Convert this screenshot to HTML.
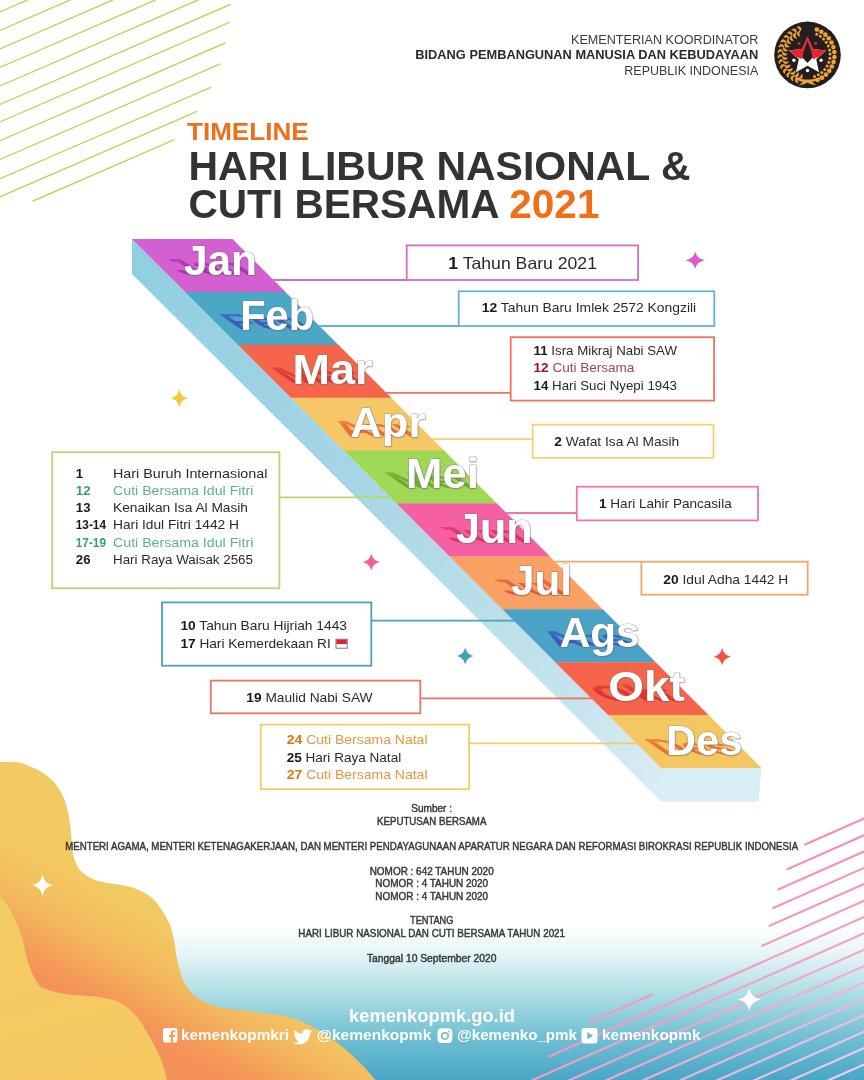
<!DOCTYPE html>
<html lang="id"><head><meta charset="utf-8"><title>Timeline Hari Libur Nasional &amp; Cuti Bersama 2021</title>
<style>
html,body{margin:0;padding:0;background:#fff}
body{width:864px;height:1080px;overflow:hidden;position:relative}
svg{position:absolute;left:0;top:0;display:block}
text{font-family:"Liberation Sans",sans-serif}
.b{font-weight:bold}
.ev{font-size:13.2px;fill:#222}
.mon{font-size:42px;font-weight:bold}
.src{font-size:10.3px;fill:#3a3a3a;stroke:#3a3a3a;stroke-width:0.45px;text-anchor:middle}
.ft{font-weight:bold;fill:#fff}
</style></head><body>
<svg width="864" height="1080" viewBox="0 0 864 1080">
<defs>
<linearGradient id="bg" x1="0" y1="0" x2="0" y2="1">
<stop offset="0" stop-color="#ffffff"/><stop offset="0.2" stop-color="#e2f3f5"/><stop offset="0.46" stop-color="#a9dbe3"/><stop offset="0.73" stop-color="#6ebfd2"/><stop offset="1" stop-color="#49a6c6"/>
</linearGradient>
<linearGradient id="blobA" gradientUnits="userSpaceOnUse" x1="100" y1="885" x2="47.2" y2="981">
<stop offset="0" stop-color="#f2ca62"/><stop offset="0.28" stop-color="#f3c05f"/><stop offset="0.48" stop-color="#f3b75d"/><stop offset="0.6" stop-color="#f4ae5b"/><stop offset="0.84" stop-color="#f59a57"/><stop offset="1" stop-color="#f5925a"/>
</linearGradient>
<linearGradient id="blobB" gradientUnits="userSpaceOnUse" x1="40" y1="900" x2="90" y2="1080">
<stop offset="0" stop-color="#f2cd63"/><stop offset="1" stop-color="#f5c860"/>
</linearGradient>
<linearGradient id="side" gradientUnits="userSpaceOnUse" x1="132" y1="255" x2="662" y2="785">
<stop offset="0" stop-color="#8fcfe0"/><stop offset="0.45" stop-color="#a9d6e6"/><stop offset="0.58" stop-color="#b4dce8"/><stop offset="0.84" stop-color="#c6e4ee"/><stop offset="1" stop-color="#d9edf5"/>
</linearGradient>
<linearGradient id="pink" gradientUnits="userSpaceOnUse" x1="720" y1="850" x2="850" y2="1085">
<stop offset="0" stop-color="#f288af"/><stop offset="0.4" stop-color="#f29cc0"/><stop offset="0.7" stop-color="#ebb4d9"/><stop offset="1" stop-color="#e6d2f2"/>
</linearGradient>
<filter id="blur1" x="-20%" y="-40%" width="140%" height="180%"><feGaussianBlur stdDeviation="0.7"/></filter>
<filter id="blur2" x="-30%" y="-30%" width="160%" height="160%"><feGaussianBlur stdDeviation="1.6"/></filter>
<filter id="tsh" x="-10%" y="-10%" width="120%" height="130%"><feDropShadow dx="0.6" dy="0.8" stdDeviation="0.7" flood-color="#444" flood-opacity="0.3"/></filter>
<path id="spark" d="M0,-10 C1.4,-4 4,-1.4 10,0 C4,1.4 1.4,4 0,10 C-1.4,4 -4,1.4 -10,0 C-4,-1.4 -1.4,-4 0,-10Z"/>
</defs>

<rect x="0" y="0" width="864" height="1080" fill="#fff"/>
<rect x="0" y="926" width="864" height="154" fill="url(#bg)"/>
<g stroke="#b7da5c" stroke-width="1.4" fill="none" stroke-linecap="round">
<line x1="0" y1="85.9" x2="197.9" y2="0"/>
<line x1="0" y1="67.4" x2="155.3" y2="0"/>
<line x1="0" y1="48.9" x2="112.7" y2="0"/>
<line x1="0" y1="30.4" x2="70.0" y2="0"/>
<line x1="0" y1="11.9" x2="27.4" y2="0"/>
<line x1="0" y1="104.4" x2="230.2" y2="4.5"/>
<line x1="0" y1="121.9" x2="228.7" y2="22.6"/>
<line x1="0" y1="140.7" x2="225.1" y2="43.0"/>
<line x1="0" y1="159.4" x2="219.7" y2="64.1"/>
<line x1="0" y1="178.7" x2="210.7" y2="87.3"/>
<line x1="0" y1="196.8" x2="197.1" y2="111.3"/>
<line x1="33.1" y1="201" x2="173.9" y2="139.9"/>
</g>
<g stroke="url(#pink)" stroke-width="2.2" fill="none" stroke-linecap="round">
<line x1="805.2" y1="844.5" x2="864" y2="818.5"/>
<line x1="787.4" y1="869.2" x2="864" y2="835.3"/>
<line x1="778.2" y1="889.6" x2="864" y2="851.6"/>
<line x1="773.3" y1="908.1" x2="864" y2="867.9"/>
<line x1="769.6" y1="925.8" x2="864" y2="884.0"/>
<line x1="762.2" y1="945.8" x2="864" y2="900.7"/>
<line x1="590" y1="1022.1" x2="652" y2="994.6"/>
<line x1="549" y1="1056.5" x2="864" y2="917.0"/>
<line x1="528.3" y1="1082" x2="864" y2="933.3"/>
<line x1="565.4" y1="1082" x2="864" y2="949.7"/>
<line x1="602.4" y1="1082" x2="864" y2="966.1"/>
<line x1="639.4" y1="1082" x2="864" y2="982.5"/>
<line x1="676.4" y1="1082" x2="864" y2="998.9"/>
<line x1="713.4" y1="1082" x2="864" y2="1015.3"/>
<line x1="750.5" y1="1082" x2="864" y2="1031.7"/>
<line x1="787.5" y1="1082" x2="864" y2="1048.1"/>
<line x1="824.5" y1="1082" x2="864" y2="1064.5"/>
<line x1="861.5" y1="1082" x2="864" y2="1080.9"/>
</g>
<path fill="url(#blobA)" d="M-5.0,761.8 C-4.2,761.8 -3.9,761.8 0.0,761.9 C3.9,762.0 12.9,761.6 18.5,762.6 C24.1,763.6 28.7,765.7 33.3,767.8 C37.9,769.9 42.3,772.1 46.3,775.2 C50.3,778.3 54.3,782.0 57.4,786.3 C60.5,790.6 62.8,795.5 64.8,801.0 C66.8,806.5 68.3,813.4 69.4,819.6 C70.5,825.8 70.7,832.1 71.3,838.0 C71.9,843.9 71.7,849.5 73.1,854.8 C74.5,860.1 76.3,865.6 79.6,869.6 C82.8,873.6 87.4,876.6 92.6,878.9 C97.8,881.2 104.8,882.2 111.0,883.5 C117.2,884.8 123.9,885.2 129.6,886.8 C135.3,888.4 140.8,890.6 145.0,893.0 C149.2,895.4 152.0,897.8 155.0,901.0 C158.0,904.2 160.5,908.0 163.0,912.0 C165.5,916.0 168.2,920.3 170.0,925.0 C171.8,929.7 172.8,934.0 174.0,940.0 C175.2,946.0 175.8,954.0 177.5,961.0 C179.2,968.0 180.8,975.8 184.0,982.0 C187.2,988.2 191.2,993.8 197.0,998.0 C202.8,1002.2 209.5,1004.7 219.0,1007.0 C228.5,1009.3 242.3,1010.3 254.0,1012.0 C265.7,1013.7 278.6,1014.2 289.0,1017.0 C299.4,1019.8 308.6,1024.7 316.7,1029.0 C324.8,1033.3 330.6,1037.7 337.5,1043.0 C344.4,1048.3 351.6,1054.5 358.0,1060.7 C364.4,1066.9 372.0,1076.0 375.7,1080.0 C379.4,1084.0 379.3,1084.2 380.0,1085.0 L-5,1085Z"/>
<path fill="url(#blobB)" d="M-5.0,893.0 C-4.2,893.5 -2.5,893.2 0.0,896.0 C2.5,898.8 6.5,903.7 10.0,910.0 C13.5,916.3 18.0,925.3 21.0,934.0 C24.0,942.7 25.2,953.7 28.0,962.0 C30.8,970.3 34.3,979.2 38.0,984.0 C41.7,988.8 45.0,988.8 50.0,990.5 C55.0,992.2 60.2,993.4 67.8,994.4 C75.4,995.4 87.3,995.3 95.6,996.5 C103.9,997.7 111.3,998.7 117.8,1001.6 C124.3,1004.5 129.8,1009.2 134.4,1013.9 C139.0,1018.6 141.3,1022.8 145.6,1030.0 C149.9,1037.2 156.4,1048.7 160.0,1057.0 C163.6,1065.3 165.7,1075.3 167.0,1080.0 C168.3,1084.7 167.8,1084.2 168.0,1085.0 L-5,1085Z"/>
<polygon fill="url(#side)" points="132.0,239 661.0,768.0 661.0,801.5 132.0,274"/>
<polygon fill="#d8edf5" points="661.0,768.0 761.5,768.0 758.5,801.5 661.0,801.5"/>
<polygon fill="#d45fd1" points="132.0,239.0 232.5,239.0 285.8,292.3 185.3,292.3"/>
<polygon fill="#4aa8c6" points="184.9,291.9 285.4,291.9 338.7,345.2 238.2,345.2"/>
<polygon fill="#f6654b" points="237.8,344.8 338.3,344.8 391.6,398.1 291.1,398.1"/>
<polygon fill="#f5c766" points="290.7,397.7 391.2,397.7 444.5,451.0 344.0,451.0"/>
<polygon fill="#9fd856" points="343.6,450.6 444.1,450.6 497.4,503.9 396.9,503.9"/>
<polygon fill="#f75fa3" points="396.5,503.5 497.0,503.5 550.3,556.8 449.8,556.8"/>
<polygon fill="#f9a162" points="449.4,556.4 549.9,556.4 603.2,609.7 502.7,609.7"/>
<polygon fill="#4aa3c6" points="502.3,609.3 602.8,609.3 656.1,662.6 555.6,662.6"/>
<polygon fill="#f6654b" points="555.2,662.2 655.7,662.2 709.0,715.5 608.5,715.5"/>
<polygon fill="#f3c863" points="608.1,715.1 708.6,715.1 761.5,768.0 661.0,768.0"/>
<line x1="272.5" y1="280" x2="406.7" y2="280" stroke="#d16dd0" stroke-width="1.8"/>
<rect x="406.7" y="245.4" width="231.4" height="34.6" fill="#fff" stroke="#d16dd0" stroke-width="1.8"/>
<line x1="318.5" y1="326" x2="458.7" y2="326" stroke="#5fb6d2" stroke-width="1.8"/>
<rect x="458.7" y="291.3" width="255.6" height="34.7" fill="#fff" stroke="#5fb6d2" stroke-width="1.8"/>
<line x1="385.3" y1="392.8" x2="510.7" y2="392.8" stroke="#f0735f" stroke-width="1.8"/>
<rect x="510.7" y="337.2" width="203.4" height="63.4" fill="#fff" stroke="#f0735f" stroke-width="1.8"/>
<line x1="431.7" y1="439.2" x2="532.7" y2="439.2" stroke="#f6d273" stroke-width="1.8"/>
<rect x="532.7" y="424.7" width="180.8" height="33.1" fill="#fff" stroke="#f6d273" stroke-width="1.8"/>
<line x1="505.5" y1="513" x2="576.8" y2="513" stroke="#f174b2" stroke-width="1.8"/>
<rect x="576.8" y="486.7" width="181.2" height="33.7" fill="#fff" stroke="#f174b2" stroke-width="1.8"/>
<line x1="554.2" y1="561.7" x2="641.4" y2="561.7" stroke="#f3a566" stroke-width="1.8"/>
<rect x="641.4" y="561.7" width="166.3" height="33.0" fill="#fff" stroke="#f3a566" stroke-width="1.8"/>
<line x1="279.4" y1="497.4" x2="391.4" y2="497.4" stroke="#b0db69" stroke-width="1.8"/>
<rect x="52.2" y="452.2" width="227.2" height="136.1" fill="#fff" stroke="#b0db69" stroke-width="1.8"/>
<line x1="371.3" y1="620.6" x2="514.6" y2="620.6" stroke="#4ba2ba" stroke-width="1.8"/>
<rect x="162.0" y="602.4" width="209.3" height="63.3" fill="#fff" stroke="#4ba2ba" stroke-width="1.8"/>
<line x1="420.3" y1="698.3" x2="592.3" y2="698.3" stroke="#ea7563" stroke-width="1.8"/>
<rect x="210.8" y="680.6" width="209.5" height="32.7" fill="#fff" stroke="#ea7563" stroke-width="1.8"/>
<line x1="469.2" y1="743.3" x2="637.3" y2="743.3" stroke="#f6cb66" stroke-width="1.8"/>
<rect x="260.8" y="724.6" width="208.4" height="64.6" fill="#fff" stroke="#f6cb66" stroke-width="1.8"/>
<defs><linearGradient id="shf" x1="0" y1="1" x2="0" y2="0"><stop offset="0" stop-color="#fff"/><stop offset="0.3" stop-color="#fff"/><stop offset="0.95" stop-color="#000"/></linearGradient></defs>
<mask id="kJan" maskUnits="userSpaceOnUse" x="154.0" y="234.8" width="133.0" height="50"><rect x="154.0" y="240.8" width="133.0" height="36" fill="url(#shf)"/></mask>
<g mask="url(#kJan)"><g transform="translate(0,274.8) matrix(1,0,0.8,0.55,-1.5,0) translate(0,-274.8)" filter="url(#blur1)" opacity="0.85"><use href="#mJan" fill="#9a2fb0"/></g></g>
<mask id="kFeb" maskUnits="userSpaceOnUse" x="210.2" y="289.6" width="134.0" height="50"><rect x="210.2" y="295.6" width="134.0" height="36" fill="url(#shf)"/></mask>
<g mask="url(#kFeb)"><g transform="translate(0,329.6) matrix(1,0,0.8,0.55,-1.5,0) translate(0,-329.6)" filter="url(#blur1)" opacity="0.85"><use href="#mFeb" fill="#3d4fc0"/></g></g>
<mask id="kMar" maskUnits="userSpaceOnUse" x="262.5" y="343.5" width="140.0" height="50"><rect x="262.5" y="349.5" width="140.0" height="36" fill="url(#shf)"/></mask>
<g mask="url(#kMar)"><g transform="translate(0,383.5) matrix(1,0,0.8,0.55,-1.5,0) translate(0,-383.5)" filter="url(#blur1)" opacity="0.85"><use href="#mMar" fill="#d83030"/></g></g>
<mask id="kApr" maskUnits="userSpaceOnUse" x="320.3" y="396.5" width="135.2" height="50"><rect x="320.3" y="402.5" width="135.2" height="36" fill="url(#shf)"/></mask>
<g mask="url(#kApr)"><g transform="translate(0,436.5) matrix(1,0,0.8,0.55,-1.5,0) translate(0,-436.5)" filter="url(#blur1)" opacity="0.85"><use href="#mApr" fill="#ee5a30"/></g></g>
<mask id="kMei" maskUnits="userSpaceOnUse" x="376.0" y="448.2" width="132.8" height="50"><rect x="376.0" y="454.2" width="132.8" height="36" fill="url(#shf)"/></mask>
<g mask="url(#kMei)"><g transform="translate(0,488.2) matrix(1,0,0.8,0.55,-1.5,0) translate(0,-488.2)" filter="url(#blur1)" opacity="0.85"><use href="#mMei" fill="#5fa52c"/></g></g>
<mask id="kJun" maskUnits="userSpaceOnUse" x="426.0" y="502.6" width="136.6" height="50"><rect x="426.0" y="508.6" width="136.6" height="36" fill="url(#shf)"/></mask>
<g mask="url(#kJun)"><g transform="translate(0,542.6) matrix(1,0,0.8,0.55,-1.5,0) translate(0,-542.6)" filter="url(#blur1)" opacity="0.85"><use href="#mJun" fill="#e02a50"/></g></g>
<mask id="kJul" maskUnits="userSpaceOnUse" x="481.0" y="555.3" width="121.0" height="50"><rect x="481.0" y="561.3" width="121.0" height="36" fill="url(#shf)"/></mask>
<g mask="url(#kJul)"><g transform="translate(0,595.3) matrix(1,0,0.8,0.55,-1.5,0) translate(0,-595.3)" filter="url(#blur1)" opacity="0.85"><use href="#mJul" fill="#ee4a35"/></g></g>
<mask id="kAgs" maskUnits="userSpaceOnUse" x="529.7" y="606.6" width="139.9" height="50"><rect x="529.7" y="612.6" width="139.9" height="36" fill="url(#shf)"/></mask>
<g mask="url(#kAgs)"><g transform="translate(0,646.6) matrix(1,0,0.8,0.55,-1.5,0) translate(0,-646.6)" filter="url(#blur1)" opacity="0.85"><use href="#mAgs" fill="#3850b8"/></g></g>
<mask id="kOkt" maskUnits="userSpaceOnUse" x="578.3" y="661.2" width="136.4" height="50"><rect x="578.3" y="667.2" width="136.4" height="36" fill="url(#shf)"/></mask>
<g mask="url(#kOkt)"><g transform="translate(0,701.2) matrix(1,0,0.8,0.55,-1.5,0) translate(0,-701.2)" filter="url(#blur1)" opacity="0.85"><use href="#mOkt" fill="#e02a2a"/></g></g>
<mask id="kDes" maskUnits="userSpaceOnUse" x="636.0" y="714.9" width="136.4" height="50"><rect x="636.0" y="720.9" width="136.4" height="36" fill="url(#shf)"/></mask>
<g mask="url(#kDes)"><g transform="translate(0,754.9) matrix(1,0,0.8,0.55,-1.5,0) translate(0,-754.9)" filter="url(#blur1)" opacity="0.85"><use href="#mDes" fill="#ee6020"/></g></g>
<g fill="#fff" stroke="#777" stroke-opacity="0.55" stroke-width="1.1" style="paint-order:stroke">
<text id="mJan" class="mon" x="184.0" y="274.8" textLength="73.0" lengthAdjust="spacingAndGlyphs" filter="url(#tsh)">Jan</text>
<text id="mFeb" class="mon" x="240.2" y="329.6" textLength="74.0" lengthAdjust="spacingAndGlyphs" filter="url(#tsh)">Feb</text>
<text id="mMar" class="mon" x="292.5" y="383.5" textLength="80.0" lengthAdjust="spacingAndGlyphs" filter="url(#tsh)">Mar</text>
<text id="mApr" class="mon" x="350.3" y="436.5" textLength="75.2" lengthAdjust="spacingAndGlyphs" filter="url(#tsh)">Apr</text>
<text id="mMei" class="mon" x="406.0" y="488.2" textLength="72.8" lengthAdjust="spacingAndGlyphs" filter="url(#tsh)">Mei</text>
<text id="mJun" class="mon" x="456.0" y="542.6" textLength="76.6" lengthAdjust="spacingAndGlyphs" filter="url(#tsh)">Jun</text>
<text id="mJul" class="mon" x="511.0" y="595.3" textLength="61.0" lengthAdjust="spacingAndGlyphs" filter="url(#tsh)">Jul</text>
<text id="mAgs" class="mon" x="559.7" y="646.6" textLength="79.9" lengthAdjust="spacingAndGlyphs" filter="url(#tsh)">Ags</text>
<text id="mOkt" class="mon" x="608.3" y="701.2" textLength="76.4" lengthAdjust="spacingAndGlyphs" filter="url(#tsh)">Okt</text>
<text id="mDes" class="mon" x="666.0" y="754.9" textLength="76.4" lengthAdjust="spacingAndGlyphs" filter="url(#tsh)">Des</text>
</g><text class="ev" x="448.3" y="269.3" textLength="148.7" lengthAdjust="spacingAndGlyphs" style="font-size:16.5px"><tspan class="b" fill="#1a1a1a">1</tspan><tspan fill="#2a2a2a"> Tahun Baru 2021</tspan></text>
<text class="ev" x="481.7" y="312.2" textLength="214.5" lengthAdjust="spacingAndGlyphs"><tspan class="b" fill="#1a1a1a">12</tspan><tspan fill="#2a2a2a"> Tahun Baru Imlek 2572 Kongzili</tspan></text>
<text class="ev" x="533.6" y="354.7" textLength="143.4" lengthAdjust="spacingAndGlyphs"><tspan class="b" fill="#1a1a1a">11</tspan><tspan fill="#2a2a2a"> Isra Mikraj Nabi SAW</tspan></text>
<text class="ev" x="533.6" y="372.3" textLength="100.8" lengthAdjust="spacingAndGlyphs"><tspan class="b" fill="#9c1422">12</tspan><tspan fill="#a3454f"> Cuti Bersama</tspan></text>
<text class="ev" x="533.6" y="389.6" textLength="143.4" lengthAdjust="spacingAndGlyphs"><tspan class="b" fill="#1a1a1a">14</tspan><tspan fill="#2a2a2a"> Hari Suci Nyepi 1943</tspan></text>
<text class="ev" x="554.3" y="446.4" textLength="124.9" lengthAdjust="spacingAndGlyphs"><tspan class="b" fill="#1a1a1a">2</tspan><tspan fill="#2a2a2a"> Wafat Isa Al Masih</tspan></text>
<text class="ev" x="599.0" y="507.9" textLength="132.7" lengthAdjust="spacingAndGlyphs"><tspan class="b" fill="#1a1a1a">1</tspan><tspan fill="#2a2a2a"> Hari Lahir Pancasila</tspan></text>
<text class="ev" x="663.3" y="584.0" textLength="125.0" lengthAdjust="spacingAndGlyphs"><tspan class="b" fill="#1a1a1a">20</tspan><tspan fill="#2a2a2a"> Idul Adha 1442 H</tspan></text>
<text class="ev b" x="75.8" y="477.5" style="fill:#1a1a1a">1</text>
<text class="ev" x="113" y="477.5" style="fill:#2a2a2a" textLength="154.4" lengthAdjust="spacingAndGlyphs">Hari Buruh Internasional</text>
<text class="ev b" x="75.8" y="494.8" style="fill:#3a9a7a">12</text>
<text class="ev" x="113" y="494.8" style="fill:#5db293" textLength="140.3" lengthAdjust="spacingAndGlyphs">Cuti Bersama Idul Fitri</text>
<text class="ev b" x="75.8" y="512.1" style="fill:#1a1a1a">13</text>
<text class="ev" x="113" y="512.1" style="fill:#2a2a2a" textLength="135" lengthAdjust="spacingAndGlyphs">Kenaikan Isa Al Masih</text>
<text class="ev b" x="75.8" y="529.4" style="fill:#1a1a1a" textLength="30.2" lengthAdjust="spacingAndGlyphs">13-14</text>
<text class="ev" x="113" y="529.4" style="fill:#2a2a2a" textLength="126" lengthAdjust="spacingAndGlyphs">Hari Idul Fitri 1442 H</text>
<text class="ev b" x="75.8" y="546.7" style="fill:#3a9a7a" textLength="30.2" lengthAdjust="spacingAndGlyphs">17-19</text>
<text class="ev" x="113" y="546.7" style="fill:#5db293" textLength="140.3" lengthAdjust="spacingAndGlyphs">Cuti Bersama Idul Fitri</text>
<text class="ev b" x="75.8" y="564.0" style="fill:#1a1a1a">26</text>
<text class="ev" x="113" y="564.0" style="fill:#2a2a2a" textLength="140" lengthAdjust="spacingAndGlyphs">Hari Raya Waisak 2565</text>
<text class="ev" x="180.4" y="629.6" textLength="166.6" lengthAdjust="spacingAndGlyphs"><tspan class="b" fill="#1a1a1a">10</tspan><tspan fill="#2a2a2a"> Tahun Baru Hijriah 1443</tspan></text>
<text class="ev" x="180.4" y="647.5" textLength="150.4" lengthAdjust="spacingAndGlyphs"><tspan class="b" fill="#1a1a1a">17</tspan><tspan fill="#2a2a2a"> Hari Kemerdekaan RI</tspan></text>
<g><rect x="336" y="639.2" width="11.2" height="9" fill="#fff" stroke="#6a6a6a" stroke-width="0.9"/><rect x="336.4" y="639.6" width="10.4" height="4.4" fill="#e5222b"/></g>
<text class="ev" x="246.3" y="701.7" textLength="126.2" lengthAdjust="spacingAndGlyphs"><tspan class="b" fill="#1a1a1a">19</tspan><tspan fill="#2a2a2a"> Maulid Nabi SAW</tspan></text>
<text class="ev" x="286.7" y="744.0" textLength="140.8" lengthAdjust="spacingAndGlyphs"><tspan class="b" fill="#e07415">24</tspan><tspan fill="#ea9440"> Cuti Bersama Natal</tspan></text>
<text class="ev" x="286.7" y="761.8" textLength="114.5" lengthAdjust="spacingAndGlyphs"><tspan class="b" fill="#1a1a1a">25</tspan><tspan fill="#2a2a2a"> Hari Raya Natal</tspan></text>
<text class="ev" x="286.7" y="779.2" textLength="140.8" lengthAdjust="spacingAndGlyphs"><tspan class="b" fill="#e07415">27</tspan><tspan fill="#ea9440"> Cuti Bersama Natal</tspan></text>
<g text-anchor="end" fill="#3b3b3b" style="font-size:13.4px">
<text x="758.3" y="44" textLength="187.3" lengthAdjust="spacingAndGlyphs">KEMENTERIAN KOORDINATOR</text>
<text x="758.3" y="59.1" class="b" fill="#2b2b2b" textLength="343" lengthAdjust="spacingAndGlyphs">BIDANG PEMBANGUNAN MANUSIA DAN KEBUDAYAAN</text>
<text x="758.3" y="74.8" textLength="134" lengthAdjust="spacingAndGlyphs">REPUBLIK INDONESIA</text>
</g>
<g transform="translate(807.5,54.9)">
<circle r="33.3" fill="#231f20"/>
<g fill="#f0a52e" stroke="#f0a52e" stroke-width="0.9"><path transform="translate(-9.30,25.56) rotate(200.0)" d="M-0.5,-2.4 C2.6,-2.6 3.8,0.2 1.2,2.3 C1.6,0.6 0.8,-0.8 -0.5,-2.4Z"/><path transform="translate(-7.73,21.24) rotate(200.0) scale(-1,1)" d="M-0.5,-2.4 C2.6,-2.6 3.8,0.2 1.2,2.3 C1.6,0.6 0.8,-0.8 -0.5,-2.4Z"/><path transform="translate(-13.93,23.36) rotate(210.8)" d="M-0.5,-2.4 C2.6,-2.6 3.8,0.2 1.2,2.3 C1.6,0.6 0.8,-0.8 -0.5,-2.4Z"/><path transform="translate(-11.57,19.41) rotate(210.8) scale(-1,1)" d="M-0.5,-2.4 C2.6,-2.6 3.8,0.2 1.2,2.3 C1.6,0.6 0.8,-0.8 -0.5,-2.4Z"/><path transform="translate(-18.06,20.34) rotate(221.6)" d="M-0.5,-2.4 C2.6,-2.6 3.8,0.2 1.2,2.3 C1.6,0.6 0.8,-0.8 -0.5,-2.4Z"/><path transform="translate(-15.00,16.90) rotate(221.6) scale(-1,1)" d="M-0.5,-2.4 C2.6,-2.6 3.8,0.2 1.2,2.3 C1.6,0.6 0.8,-0.8 -0.5,-2.4Z"/><path transform="translate(-21.55,16.60) rotate(232.4)" d="M-0.5,-2.4 C2.6,-2.6 3.8,0.2 1.2,2.3 C1.6,0.6 0.8,-0.8 -0.5,-2.4Z"/><path transform="translate(-17.91,13.79) rotate(232.4) scale(-1,1)" d="M-0.5,-2.4 C2.6,-2.6 3.8,0.2 1.2,2.3 C1.6,0.6 0.8,-0.8 -0.5,-2.4Z"/><path transform="translate(-24.28,12.26) rotate(243.2)" d="M-0.5,-2.4 C2.6,-2.6 3.8,0.2 1.2,2.3 C1.6,0.6 0.8,-0.8 -0.5,-2.4Z"/><path transform="translate(-20.17,10.19) rotate(243.2) scale(-1,1)" d="M-0.5,-2.4 C2.6,-2.6 3.8,0.2 1.2,2.3 C1.6,0.6 0.8,-0.8 -0.5,-2.4Z"/><path transform="translate(-26.15,7.50) rotate(254.0)" d="M-0.5,-2.4 C2.6,-2.6 3.8,0.2 1.2,2.3 C1.6,0.6 0.8,-0.8 -0.5,-2.4Z"/><path transform="translate(-21.72,6.23) rotate(254.0) scale(-1,1)" d="M-0.5,-2.4 C2.6,-2.6 3.8,0.2 1.2,2.3 C1.6,0.6 0.8,-0.8 -0.5,-2.4Z"/><path transform="translate(-27.09,2.47) rotate(264.8)" d="M-0.5,-2.4 C2.6,-2.6 3.8,0.2 1.2,2.3 C1.6,0.6 0.8,-0.8 -0.5,-2.4Z"/><path transform="translate(-22.51,2.05) rotate(264.8) scale(-1,1)" d="M-0.5,-2.4 C2.6,-2.6 3.8,0.2 1.2,2.3 C1.6,0.6 0.8,-0.8 -0.5,-2.4Z"/><path transform="translate(-27.07,-2.65) rotate(275.6)" d="M-0.5,-2.4 C2.6,-2.6 3.8,0.2 1.2,2.3 C1.6,0.6 0.8,-0.8 -0.5,-2.4Z"/><path transform="translate(-22.49,-2.21) rotate(275.6) scale(-1,1)" d="M-0.5,-2.4 C2.6,-2.6 3.8,0.2 1.2,2.3 C1.6,0.6 0.8,-0.8 -0.5,-2.4Z"/><path transform="translate(-26.09,-7.68) rotate(286.4)" d="M-0.5,-2.4 C2.6,-2.6 3.8,0.2 1.2,2.3 C1.6,0.6 0.8,-0.8 -0.5,-2.4Z"/><path transform="translate(-21.68,-6.38) rotate(286.4) scale(-1,1)" d="M-0.5,-2.4 C2.6,-2.6 3.8,0.2 1.2,2.3 C1.6,0.6 0.8,-0.8 -0.5,-2.4Z"/><path transform="translate(-24.19,-12.43) rotate(297.2)" d="M-0.5,-2.4 C2.6,-2.6 3.8,0.2 1.2,2.3 C1.6,0.6 0.8,-0.8 -0.5,-2.4Z"/><path transform="translate(-20.10,-10.33) rotate(297.2) scale(-1,1)" d="M-0.5,-2.4 C2.6,-2.6 3.8,0.2 1.2,2.3 C1.6,0.6 0.8,-0.8 -0.5,-2.4Z"/><path transform="translate(-21.43,-16.75) rotate(308.0)" d="M-0.5,-2.4 C2.6,-2.6 3.8,0.2 1.2,2.3 C1.6,0.6 0.8,-0.8 -0.5,-2.4Z"/><path transform="translate(-17.81,-13.91) rotate(308.0) scale(-1,1)" d="M-0.5,-2.4 C2.6,-2.6 3.8,0.2 1.2,2.3 C1.6,0.6 0.8,-0.8 -0.5,-2.4Z"/><path transform="translate(-17.92,-20.47) rotate(318.8)" d="M-0.5,-2.4 C2.6,-2.6 3.8,0.2 1.2,2.3 C1.6,0.6 0.8,-0.8 -0.5,-2.4Z"/><path transform="translate(-14.89,-17.00) rotate(318.8) scale(-1,1)" d="M-0.5,-2.4 C2.6,-2.6 3.8,0.2 1.2,2.3 C1.6,0.6 0.8,-0.8 -0.5,-2.4Z"/><path transform="translate(-13.76,-23.46) rotate(329.6)" d="M-0.5,-2.4 C2.6,-2.6 3.8,0.2 1.2,2.3 C1.6,0.6 0.8,-0.8 -0.5,-2.4Z"/><path transform="translate(-11.44,-19.49) rotate(329.6) scale(-1,1)" d="M-0.5,-2.4 C2.6,-2.6 3.8,0.2 1.2,2.3 C1.6,0.6 0.8,-0.8 -0.5,-2.4Z"/><path transform="translate(-9.12,-25.62) rotate(340.4)" d="M-0.5,-2.4 C2.6,-2.6 3.8,0.2 1.2,2.3 C1.6,0.6 0.8,-0.8 -0.5,-2.4Z"/><path transform="translate(-7.58,-21.29) rotate(340.4) scale(-1,1)" d="M-0.5,-2.4 C2.6,-2.6 3.8,0.2 1.2,2.3 C1.6,0.6 0.8,-0.8 -0.5,-2.4Z"/></g>
<g fill="#f0a52e"><circle cx="10.11" cy="25.03" r="2.3"/><circle cx="6.98" cy="21.49" r="1.5"/><circle cx="14.55" cy="22.75" r="2.3"/><circle cx="10.82" cy="19.84" r="1.5"/><circle cx="18.48" cy="19.68" r="2.3"/><circle cx="14.28" cy="17.51" r="1.5"/><circle cx="21.79" cy="15.95" r="2.3"/><circle cx="17.26" cy="14.59" r="1.5"/><circle cx="24.35" cy="11.67" r="2.3"/><circle cx="19.65" cy="11.16" r="1.5"/><circle cx="26.08" cy="6.99" r="2.3"/><circle cx="21.37" cy="7.36" r="1.5"/><circle cx="26.92" cy="2.07" r="2.3"/><circle cx="22.36" cy="3.30" r="1.5"/><circle cx="26.84" cy="-2.92" r="2.3"/><circle cx="22.58" cy="-0.87" r="1.5"/><circle cx="25.85" cy="-7.80" r="2.3"/><circle cx="22.04" cy="-5.01" r="1.5"/><circle cx="23.97" cy="-12.43" r="2.3"/><circle cx="20.74" cy="-8.98" r="1.5"/><circle cx="21.28" cy="-16.62" r="2.3"/><circle cx="18.74" cy="-12.64" r="1.5"/><circle cx="17.86" cy="-20.25" r="2.3"/><circle cx="16.09" cy="-15.87" r="1.5"/><circle cx="13.83" cy="-23.19" r="2.3"/><circle cx="12.90" cy="-18.56" r="1.5"/><circle cx="9.32" cy="-25.34" r="2.3"/><circle cx="9.26" cy="-20.61" r="1.5"/></g>
<path d="M-12,22 C-5,25.5 5,25.5 12,22 L12.5,24 C6,27.2 2,27.3 0,27.2 C-2,27.3 -6,27.2 -12.5,24Z" fill="#f0a52e"/>
<path d="M-4,26.5 L-9,30.5 L-3,29 L0,27.5 L3,29 L9,30.5 L4,26.5Z" fill="#f0a52e"/>
<clipPath id="stc"><polygon points="0.00,-18.00 5.41,-5.84 18.64,-4.46 8.75,4.44 11.52,17.46 0.00,10.80 -11.52,17.46 -8.75,4.44 -18.64,-4.46 -5.41,-5.84"/></clipPath>
<g clip-path="url(#stc)"><rect x="-22" y="-22" width="44" height="44" fill="#fff"/><path d="M-22,-22 H22 V-2 L6,4 L0,-2 L-6,4 L-22,-2Z" fill="#e8232b"/></g>
<path d="M0,-13.5 C1.6,-9 5.2,-1.5 4.7,3.2 L0,8.2 L-4.7,3.2 C-5.2,-1.5 -1.6,-9 0,-13.5Z" fill="#231f20"/>
<circle cx="-8.3" cy="-11.5" r="1.4" fill="#e8232b"/><circle cx="8.3" cy="-11.5" r="1.4" fill="#e8232b"/>
<circle cx="-13.6" cy="5.4" r="1.7" fill="#fff"/><circle cx="13.6" cy="5.4" r="1.7" fill="#fff"/><circle cx="0" cy="15.6" r="1.7" fill="#fff"/>
</g>
<text x="187" y="140.2" class="b" fill="#f0701a" style="font-size:24.2px" textLength="121.6" lengthAdjust="spacingAndGlyphs">TIMELINE</text>
<text x="188.5" y="180" class="b" fill="#333333" style="font-size:40.6px" textLength="502" lengthAdjust="spacingAndGlyphs">HARI LIBUR NASIONAL &amp;</text>
<text x="188.5" y="218.2" class="b" fill="#333333" style="font-size:40.6px" textLength="411" lengthAdjust="spacingAndGlyphs">CUTI BERSAMA <tspan fill="#f0701a">2021</tspan></text>
<text class="src" x="431.7" y="812.4" textLength="40.7" lengthAdjust="spacingAndGlyphs">Sumber :</text>
<text class="src" x="431.7" y="824.5" textLength="109.4" lengthAdjust="spacingAndGlyphs">KEPUTUSAN BERSAMA</text>
<text class="src" x="431.7" y="849.5" textLength="733" lengthAdjust="spacingAndGlyphs">MENTERI AGAMA, MENTERI KETENAGAKERJAAN, DAN MENTERI PENDAYAGUNAAN APARATUR NEGARA DAN REFORMASI BIROKRASI REPUBLIK INDONESIA</text>
<text class="src" x="431.7" y="874.9" textLength="124" lengthAdjust="spacingAndGlyphs">NOMOR : 642 TAHUN 2020</text>
<text class="src" x="431.7" y="887.4" textLength="112.8" lengthAdjust="spacingAndGlyphs">NOMOR : 4 TAHUN 2020</text>
<text class="src" x="431.7" y="899.9" textLength="112.8" lengthAdjust="spacingAndGlyphs">NOMOR : 4 TAHUN 2020</text>
<text class="src" x="431.7" y="924.2" textLength="43.4" lengthAdjust="spacingAndGlyphs">TENTANG</text>
<text class="src" x="431.7" y="937.4" textLength="266.7" lengthAdjust="spacingAndGlyphs">HARI LIBUR NASIONAL DAN CUTI BERSAMA TAHUN 2021</text>
<text class="src" x="431.7" y="962.2" textLength="129.5" lengthAdjust="spacingAndGlyphs">Tanggal 10 September 2020</text>
<text class="ft" x="349" y="1021.6" style="font-size:18.5px" textLength="166" lengthAdjust="spacingAndGlyphs">kemenkopmk.go.id</text>
<g class="ft" style="font-size:14.6px">
<text class="ft" x="181" y="1040.3" textLength="108" lengthAdjust="spacingAndGlyphs">kemenkopmkri</text>
<text class="ft" x="316.8" y="1040.3" textLength="114.5" lengthAdjust="spacingAndGlyphs">@kemenkopmk</text>
<text class="ft" x="457" y="1040.3" textLength="120" lengthAdjust="spacingAndGlyphs">@kemenko_pmk</text>
<text class="ft" x="602" y="1040.3" textLength="98.5" lengthAdjust="spacingAndGlyphs">kemenkopmk</text>
</g>
<g transform="translate(163,1028)"><rect width="14.4" height="14.4" rx="2" fill="#fff"/><path d="M10,14.4 V8.9 h1.9 l0.3,-2.2 H10 V5.3 c0,-0.6 0.2,-1.1 1.1,-1.1 h1.2 V2.3 c-0.2,0 -0.9,-0.1 -1.7,-0.1 c-1.7,0 -2.9,1 -2.9,3 v1.5 H5.8 v2.2 h1.9 v5.5z" fill="#f5a057"/></g>
<path transform="translate(293.5,1027.5) scale(0.78)" d="M23.6,4.6c-.9.4-1.8.6-2.8.8 1-.6 1.8-1.6 2.1-2.7-.9.6-2 1-3.1 1.2C18.900,3 17.700,2.400 16.300,2.400c-2.700,0-4.800,2.200-4.800,4.800 0,.4 0,.8.1,1.100C7.600,8.100 4.100,6.200 1.700,3.300c-.4.7-.7,1.600-.7,2.400 0,1.700.9,3.200 2.200,4-.8,0-1.500-.2-2.200-.6v.1c0,2.300 1.700,4.300 3.900,4.700-.4.1-.8.2-1.300.2-.3,0-.6,0-.9-.1.600,1.900 2.400,3.300 4.500,3.400-1.700,1.300-3.700,2.100-6,2.100-.4,0-.8,0-1.200-.1 2.100,1.400 4.700,2.200 7.400,2.200 8.900,0 13.700-7.400 13.700-13.700v-.6c.9-.7 1.700-1.500 2.400-2.500z" fill="#fff"/>
<g transform="translate(437.5,1028.3)"><rect width="14.8" height="14.8" rx="4" fill="#fff"/><circle cx="7.4" cy="7.6" r="3.3" fill="none" stroke="#78bfd6" stroke-width="1.7"/><circle cx="11.5" cy="3.4" r="1" fill="#78bfd6"/></g>
<g transform="translate(581.5,1028)"><rect width="16" height="15.5" rx="3.2" fill="#fff"/><path d="M5.8,4 L11.6,7.8 L5.8,11.5Z" fill="#6db9d2"/></g>
<use href="#spark" transform="translate(695.2,260.2) scale(1.000,0.875)" fill="#dc5cc6"/>
<use href="#spark" transform="translate(179.4,398.2) scale(0.900,0.950)" fill="#f6c945"/>
<use href="#spark" transform="translate(371.3,562) scale(0.890,0.880)" fill="#f1609d"/>
<use href="#spark" transform="translate(465.2,655.9) scale(0.850,0.900)" fill="#3fa1be"/>
<use href="#spark" transform="translate(722.2,656.7) scale(0.890,0.890)" fill="#f1533d"/>
<use href="#spark" transform="translate(42.5,885.2) scale(1.050,1.100)" fill="#fffdf5"/>
<use href="#spark" transform="translate(749.4,999.4) scale(1.150,1.140)" fill="#ffffff"/>
</svg>
</body></html>
